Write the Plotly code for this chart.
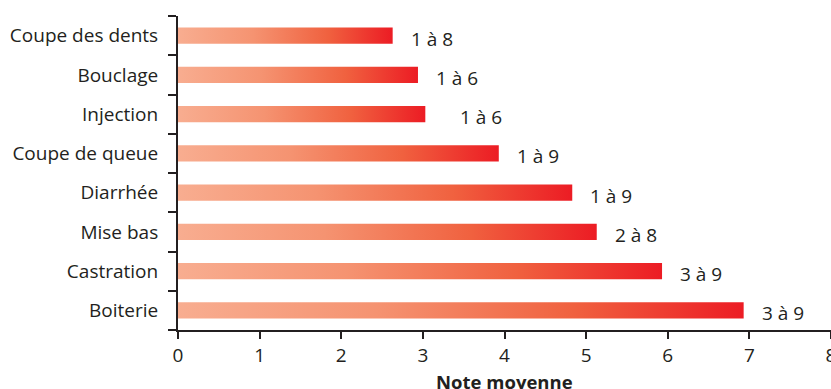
import plotly.graph_objects as go

# Practices, listed bottom to top, with their mean score and score range
categories = ["Boiterie", "Castration", "Mise bas", "Diarrhée",
              "Coupe de queue", "Injection", "Bouclage", "Coupe des dents"]
mean_scores = [6.93, 5.93, 5.13, 4.83, 3.93, 3.03, 2.94, 2.63]
score_ranges = ["3 à 9", "3 à 9", "2 à 8", "1 à 9", "1 à 9", "1 à 6", "1 à 6", "1 à 8"]

x_ticks = [0, 1, 2, 3, 4, 5, 6, 7, 8]

INK = "#231f20"
FONT = "Open Sans"
BAR_HALF = 0.205
GRADIENT = [[0.0, "#f8ad90"], [0.35, "#f59371"], [0.7, "#f0613f"], [1.0, "#ec1c24"]]
# extra horizontal nudge for individual value labels (px)
label_nudge = {"Injection": 17}

fig = go.Figure()

for i, (cat, val) in enumerate(zip(categories, mean_scores)):
    fig.add_trace(go.Scatter(
        x=[0, val, val, 0, 0],
        y=[i - BAR_HALF, i - BAR_HALF, i + BAR_HALF, i + BAR_HALF, i - BAR_HALF],
        mode="lines",
        line=dict(width=0),
        fill="toself",
        fillgradient=dict(type="horizontal", colorscale=GRADIENT),
        hoverinfo="skip",
        showlegend=False,
    ))
    fig.add_annotation(
        x=val, y=i, text=score_ranges[i],
        xanchor="left", yanchor="middle",
        xshift=16 + label_nudge.get(cat, 0), yshift=-3,
        showarrow=False,
        font=dict(family=FONT, size=19, color=INK),
    )

# x-axis title, placed below the tick labels
fig.add_annotation(
    x=0.5, y=0, xref="paper", yref="paper",
    xanchor="center", yanchor="top", yshift=-37,
    text="<b>Note moyenne</b>", showarrow=False,
    font=dict(family=FONT, size=18.5, color=INK),
)

n = len(categories)
fig.update_layout(
    width=831, height=389,
    margin=dict(l=178, r=0, t=16, b=59),
    paper_bgcolor="white", plot_bgcolor="white",
    font=dict(family=FONT, color=INK),
    xaxis=dict(
        range=[0, 8], tickvals=x_ticks, ticktext=[str(t) for t in x_ticks],
        showgrid=False, zeroline=False,
        showline=True, linecolor=INK, linewidth=2,
        ticks="outside", ticklen=7, tickwidth=2, tickcolor=INK,
        tickfont=dict(family=FONT, size=19, color=INK),
        ticklabeloverflow="allow",
        automargin=False,
    ),
    yaxis=dict(
        range=[-0.5, n - 0.5],
        tickvals=list(range(n)), ticktext=categories,
        showgrid=False, zeroline=False,
        showline=True, linecolor=INK, linewidth=2,
        ticks="", ticklabelstandoff=14,
        tickfont=dict(family=FONT, size=19, color=INK),
        minor=dict(tickmode="array", tickvals=[k - 0.5 for k in range(n + 1)],
                   ticks="outside", ticklen=8, tickwidth=2, tickcolor=INK,
                   showgrid=False),
        automargin=False,
    ),
)

fig.write_html("out.html")
